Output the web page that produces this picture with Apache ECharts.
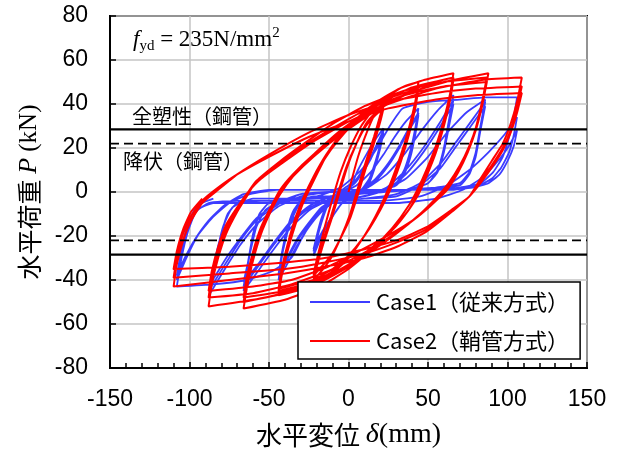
<!DOCTYPE html>
<html><head><meta charset="utf-8">
<script src="https://cdn.jsdelivr.net/npm/echarts/dist/echarts.min.js"></script>
<style>html,body{margin:0;padding:0;background:#fff}#c{width:619px;height:454px}</style>
</head><body><div id="c"></div><script>
// ---- axis settings ----
const xMin = -150, xMax = 150, xStep = 50;
const yMin = -80, yMax = 80, yStep = 20;
const fullPlasticLoad = 28.5;   // 全塑性(鋼管)
const yieldLoad = 22;           // 降伏(鋼管)
const seriesNames = ['Case1（従来方式）', 'Case2（鞘管方式）'];
const noteFullPlastic = '全塑性（鋼管）';
const noteYield = '降伏（鋼管）';

// ---- Case1 (従来方式) : displacement [mm], load [kN] ----
const case1Lv1 = [[0,0],[6,10],[12,18],[17,24],[22,29],
 [20,22],[17,14],[13,6],[8,1],[2,-2],[-4,-5],[-9,-10],[-14,-16],[-18,-22],[-22,-29],
 [-20,-22],[-17,-14],[-13,-6],[-8,-1],[-2,2],[4,5],[9,10],[14,16],[18,22],[22,28],
 [20,21],[17,13],[13,5],[8,0],[2,-3],[-4,-5],[-9,-10],[-14,-16],[-18,-21],[-22,-27],
 [-20,-20],[-17,-12],[-13,-5],[-8,-1],[-2,1],[4,4],[9,9],[14,15],[18,21],[22,27],
 [20,20],[17,12],[13,4],[8,0],[2,-3],[-4,-5],[-9,-10],[-14,-15],[-18,-20],[-22,-26]];
const case1Lv2 = [[-19,-17],[-15,-8],[-10,-3],[-3,0],[5,3],[14,9],[22,17],[29,25],[36,32],[44,38],
 [42,29],[39,19],[35,10],[30,4],[22,1],[12,0],[2,-2],[-8,-4],[-17,-9],[-25,-16],[-32,-24],[-38,-32],[-44,-40],
 [-42,-30],[-39,-19],[-35,-10],[-30,-4],[-22,-2],[-12,-2],[-2,-1],[8,1],[17,6],[25,13],[32,21],[38,29],[44,36],
 [42,27],[39,17],[35,9],[30,3],[22,1],[12,0],[2,-2],[-8,-3],[-17,-8],[-25,-15],[-32,-22],[-38,-30],[-44,-38],
 [-42,-28],[-39,-18],[-35,-9],[-30,-4],[-22,-2],[-12,-2],[-2,-1],[8,1],[17,5],[25,12],[32,20],[38,28],[44,35],
 [42,26],[39,16],[35,8],[30,3],[22,1],[12,0],[2,-2],[-8,-3],[-17,-7],[-25,-14],[-32,-21],[-38,-29],[-44,-37]];
const case1Lv3 = [[-41,-26],[-37,-15],[-32,-7],[-24,-3],[-12,-2],[0,-1],[12,2],[24,8],[36,18],[46,28],[56,37],[66,44],
 [63,32],[60,20],[56,10],[50,4],[38,1],[22,0],[5,-1],[-10,-3],[-24,-8],[-36,-16],[-47,-26],[-57,-36],[-66,-45],
 [-63,-32],[-60,-20],[-56,-10],[-50,-5],[-38,-3],[-22,-3],[-5,-3],[10,-2],[24,2],[36,10],[47,20],[57,31],[66,42],
 [63,30],[60,19],[56,9],[50,4],[38,1],[22,0],[5,-1],[-10,-3],[-24,-7],[-36,-14],[-47,-24],[-57,-34],[-66,-43],
 [-63,-31],[-60,-19],[-56,-10],[-50,-5],[-38,-4],[-22,-3],[-5,-3],[10,-2],[24,1],[36,8],[47,18],[57,29],[66,40],
 [63,29],[60,18],[56,9],[50,4],[38,1],[22,0],[5,-1],[-10,-2],[-24,-6],[-36,-13],[-47,-23],[-57,-33],[-66,-41]];
const case1Lv4 = [[-62,-28],[-58,-16],[-52,-8],[-40,-4],[-20,-3],[0,-3],[20,0],[36,6],[50,16],[62,27],[74,36],[86,42],
 [83,30],[80,18],[76,9],[70,4],[55,2],[35,1],[12,0],[-12,0],[-30,-2],[-45,-7],[-58,-15],[-68,-24],[-76,-33],[-82,-40],[-87,-46],
 [-84,-33],[-80,-20],[-76,-10],[-70,-5],[-55,-4],[-30,-4],[-10,-4],[10,-3],[30,-1],[45,4],[58,13],[68,23],[77,32],[86,41],
 [83,29],[80,17],[76,8],[70,4],[55,2],[35,1],[12,0],[-12,0],[-30,-1],[-45,-6],[-58,-13],[-68,-22],[-76,-31],[-82,-38],[-87,-44],
 [-84,-31],[-80,-19],[-76,-10],[-70,-5],[-55,-4],[-30,-4],[-10,-4],[10,-3],[30,-2],[45,3],[58,11],[68,21],[77,30],[86,39],
 [83,28],[80,16],[76,8],[70,3],[55,2],[35,1],[12,0],[-12,0],[-30,-1],[-45,-5],[-58,-12],[-68,-21],[-76,-29],[-82,-36],[-87,-42]];
const case1Lv5 = [[-83,-28],[-79,-16],[-73,-7],[-60,-3],[-40,-3],[-20,-2],[-5,2],[8,10],[18,20],[26,30],[34,38],[50,41],[70,42],[86,43],[106,43],
 [104,34],[101,25],[97,16],[91,9],[83,4],[70,2],[48,1],[20,1],[0,0],[-12,-4],[-22,-12],[-30,-22],[-36,-30],[-48,-36],[-64,-40],[-85,-42],[-108,-43],
 [-105,-30],[-101,-18],[-96,-9],[-88,-5],[-70,-4],[-40,-4],[-10,-4],[20,-4],[45,-2],[62,3],[76,10],[88,18],[98,26],[106,34],
 [104,26],[101,18],[96,11],[90,6],[82,3],[65,1],[40,1],[10,1],[-20,1],[-45,1],[-62,-1],[-75,-5],[-86,-12],[-95,-20],[-102,-30],[-108,-40],
 [-105,-28],[-101,-16],[-95,-8],[-85,-5],[-60,-5],[-30,-5],[0,-5],[30,-5],[55,-3],[72,1],[85,7],[95,15],[101,21],[106,28],
 [104,21],[100,14],[95,8],[88,4],[78,2],[62,1],[35,1],[5,1],[-25,1],[-50,1],[-66,-1],[-78,-6],[-88,-13],[-97,-22],[-103,-30],[-108,-38],
 [-105,-26],[-101,-14],[-95,-6],[-85,-3]];

// ---- Case2 (鞘管方式) : displacement [mm], load [kN] ----
const case2Lv1 = [[0,0],[6,16],[12,28],[17,36],[22,41],
 [20,35],[16,25],[11,14],[6,2],[1,-10],[-5,-21],[-11,-30],[-17,-36],[-22,-40],
 [-20,-34],[-16,-24],[-11,-13],[-6,-1],[-1,11],[5,22],[11,31],[17,36],[22,39],
 [20,33],[16,23],[11,12],[6,0],[1,-11],[-5,-21],[-11,-29],[-17,-34],[-22,-38],
 [-20,-32],[-16,-22],[-11,-11],[-6,1],[-1,12],[5,22],[11,30],[17,35],[22,38],
 [20,32],[16,22],[11,11],[6,-1],[1,-12],[-5,-21],[-11,-29],[-17,-34],[-22,-37]];
const case2Lv2 = [[-19,-28],[-15,-16],[-10,-3],[-5,9],[1,20],[8,30],[16,38],[26,44],[35,48],[44,50],
 [42,41],[38,29],[33,17],[28,7],[23,-2],[17,-11],[9,-21],[0,-30],[-10,-37],[-22,-42],[-33,-45],[-44,-47],
 [-42,-38],[-38,-26],[-33,-14],[-28,-4],[-22,5],[-15,15],[-7,24],[3,32],[14,39],[27,44],[44,48],
 [42,39],[38,27],[33,15],[28,5],[23,-3],[17,-12],[9,-21],[0,-29],[-10,-36],[-22,-41],[-33,-43],[-44,-45],
 [-42,-36],[-38,-24],[-33,-12],[-28,-3],[-22,6],[-15,15],[-7,23],[3,31],[14,38],[27,43],[44,47],
 [42,38],[38,26],[33,14],[28,4],[23,-4],[17,-12],[9,-21],[0,-29],[-10,-35],[-22,-40],[-33,-42],[-44,-44]];
const case2Lv3 = [[-42,-35],[-38,-23],[-33,-11],[-28,-2],[-22,7],[-14,17],[-5,26],[6,34],[18,41],[32,47],[48,51],[66,54],
 [64,45],[60,33],[55,21],[49,10],[44,2],[38,-6],[28,-16],[15,-26],[0,-35],[-18,-43],[-40,-49],[-66,-53],
 [-64,-44],[-60,-31],[-55,-19],[-49,-9],[-43,-1],[-35,7],[-22,17],[-5,28],[15,38],[38,47],[66,52],
 [64,43],[60,31],[55,19],[49,8],[44,0],[38,-8],[28,-17],[15,-26],[0,-34],[-18,-41],[-40,-46],[-66,-50],
 [-64,-41],[-60,-28],[-55,-17],[-49,-8],[-43,0],[-35,7],[-22,16],[-5,26],[15,36],[38,45],[66,51],
 [64,42],[60,30],[55,18],[49,7],[44,-1],[38,-8],[28,-17],[15,-25],[0,-33],[-18,-40],[-40,-45],[-66,-48]];
const case2Lv4 = [[-64,-39],[-60,-27],[-55,-16],[-49,-7],[-43,1],[-35,8],[-22,17],[-5,27],[15,37],[38,45],[60,50],[88,54],
 [85,43],[81,31],[76,21],[70,12],[63,4],[56,-2],[45,-10],[30,-19],[10,-29],[-12,-38],[-35,-45],[-60,-49],[-88,-52],
 [-86,-42],[-82,-30],[-77,-19],[-70,-9],[-64,-2],[-58,5],[-43,14],[-28,22],[-10,31],[10,39],[35,46],[60,50],[87,52],
 [84,41],[80,29],[75,19],[69,10],[62,2],[55,-4],[44,-11],[29,-19],[9,-28],[-13,-36],[-36,-42],[-60,-46],[-88,-48],
 [-86,-38],[-82,-27],[-77,-17],[-70,-8],[-64,-1],[-58,5],[-43,13],[-28,21],[-10,29],[10,37],[35,44],[60,48],[87,50],
 [84,39],[80,28],[75,18],[69,9],[62,1],[55,-4],[44,-11],[29,-18],[9,-26],[-13,-34],[-36,-40],[-60,-43],[-88,-45]];
const case2Lv5 = [[-86,-36],[-82,-25],[-77,-15],[-70,-7],[-63,0],[-55,6],[-40,14],[-22,23],[0,32],[25,40],[55,47],[85,51],[109,52],
 [106,41],[102,31],[97,22],[90,14],[83,6],[76,-2],[65,-9],[49,-18],[30,-25],[10,-30],[-15,-34],[-40,-37],[-75,-40],[-110,-43],
 [-108,-33],[-104,-22],[-99,-13],[-92,-5],[-82,1],[-70,8],[-50,17],[-25,27],[0,35],[25,41],[55,45],[80,47],[109,48],
 [106,38],[102,28],[97,20],[90,12],[83,5],[76,-2],[65,-9],[49,-17],[30,-23],[10,-28],[-15,-32],[-40,-35],[-75,-37],[-110,-39],
 [-108,-30],[-104,-19],[-99,-11],[-92,-4],[-82,2],[-70,8],[-50,16],[-25,25],[0,32],[25,38],[55,42],[80,44],[109,45],
 [106,36],[102,27],[97,19],[90,11],[83,4],[76,-2],[65,-8],[49,-16],[30,-22],[10,-26],[-15,-30],[-40,-32],[-75,-34],[-110,-35],
 [-108,-27],[-104,-17],[-99,-9],[-92,-3]];

const case1 = [].concat(case1Lv1, case1Lv2, case1Lv3, case1Lv4, case1Lv5);
const case2 = [].concat(case2Lv1, case2Lv2, case2Lv3, case2Lv4, case2Lv5);

const chart = echarts.init(document.getElementById('c'), null, {renderer: 'canvas'});
const jp = "'Noto Sans CJK JP', sans-serif";
const serif = "'Liberation Serif', 'Times New Roman', serif";
const sans = "'Liberation Sans', Arial, sans-serif";
const refLine = (name, y, type, w) => ({
  name: name, type: 'line', data: [[xMin, y], [xMax, y]], symbol: 'none', silent: true,
  lineStyle: {color: '#000', width: w, type: type}, z: 5, animation: false
});
chart.setOption({
  animation: false,
  grid: {left: 110, right: 32, top: 16, bottom: 85, show: true, borderColor: '#000', borderWidth: 2},
  xAxis: {
    type: 'value', min: xMin, max: xMax, interval: xStep,
    axisLine: {onZero: false, lineStyle: {color: '#000', width: 2}},
    axisTick: {inside: true, length: 6, lineStyle: {color: '#000', width: 1.5}},
    minorTick: {show: true, splitNumber: 5, length: 5, lineStyle: {color: '#000', width: 1.5}},
    splitLine: {show: true, lineStyle: {color: '#c4c4c4', width: 1.5}},
    axisLabel: {color: '#000', fontSize: 23, fontFamily: sans, margin: 20},
    name: '{a|水平変位 }{b|δ}{c|(mm)}', nameLocation: 'middle', nameGap: 53,
    nameTextStyle: {color: '#000', rich: {
      a: {fontSize: 26, fontFamily: jp, color: '#000'},
      b: {fontSize: 28, fontFamily: serif, fontStyle: 'italic', color: '#000'},
      c: {fontSize: 28, fontFamily: serif, color: '#000'}}}
  },
  yAxis: {
    type: 'value', min: yMin, max: yMax, interval: yStep,
    axisLine: {onZero: false, lineStyle: {color: '#000', width: 2}},
    axisTick: {inside: true, length: 6, lineStyle: {color: '#000', width: 1.5}},
    splitLine: {show: true, lineStyle: {color: '#c4c4c4', width: 1.5}},
    axisLabel: {color: '#000', fontSize: 23, fontFamily: sans, margin: 22},
    name: '{a|水平荷重 }{b|P}{c| (kN)}', nameLocation: 'middle', nameGap: 68, nameRotate: 90,
    nameTextStyle: {color: '#000', rich: {
      a: {fontSize: 25, fontFamily: jp, color: '#000'},
      b: {fontSize: 26, fontFamily: serif, fontStyle: 'italic', color: '#000'},
      c: {fontSize: 25, fontFamily: serif, color: '#000'}}}
  },
  legend: {
    data: seriesNames, orient: 'vertical', left: 298, top: 282,
    padding: [9, 11, 7, 12], itemGap: 17, itemWidth: 60, itemHeight: 2, icon: 'rect',
    backgroundColor: '#fff', borderColor: '#000', borderWidth: 1.5, borderRadius: 0,
    textStyle: {fontSize: 22, fontFamily: jp, color: '#000', padding: [0, 0, 0, 1]}
  },
  graphic: [
    {type: 'text', left: 133, top: 26, z: 10, style: {
      text: '{i|f}{s|yd}{n| = 235N/mm}{p|2}', rich: {
        i: {fontSize: 23, fontFamily: serif, fontStyle: 'italic', fill: '#000', lineHeight: 28, verticalAlign: 'middle'},
        s: {fontSize: 15, fontFamily: serif, fill: '#000', verticalAlign: 'bottom', lineHeight: 28},
        n: {fontSize: 23, fontFamily: serif, fill: '#000', lineHeight: 28, verticalAlign: 'middle'},
        p: {fontSize: 15, fontFamily: serif, fill: '#000', verticalAlign: 'top', lineHeight: 28}}}},
    {type: 'text', left: 132, top: 106, z: 10, style: {text: noteFullPlastic, fontSize: 20, fontFamily: jp, fill: '#000'}},
    {type: 'text', left: 123, top: 151, z: 10, style: {text: noteYield, fontSize: 20, fontFamily: jp, fill: '#000'}}
  ],
  series: [
    {name: seriesNames[0], type: 'line', data: case1, symbol: 'none', showSymbol: false, smooth: 0.15,
     lineStyle: {color: '#3c3cff', width: 1.8}, itemStyle: {color: '#3c3cff'}, z: 2},
    {name: seriesNames[1], type: 'line', data: case2, symbol: 'none', showSymbol: false, smooth: 0.15,
     lineStyle: {color: '#ff0000', width: 2}, itemStyle: {color: '#ff0000'}, z: 3},
    refLine('fp+', fullPlasticLoad, 'solid', 2.2),
    refLine('fp-', -fullPlasticLoad, 'solid', 2.2),
    refLine('y+', yieldLoad, [9, 5], 1.8),
    refLine('y-', -yieldLoad, [9, 5], 1.8)
  ]
});
</script></body></html>
